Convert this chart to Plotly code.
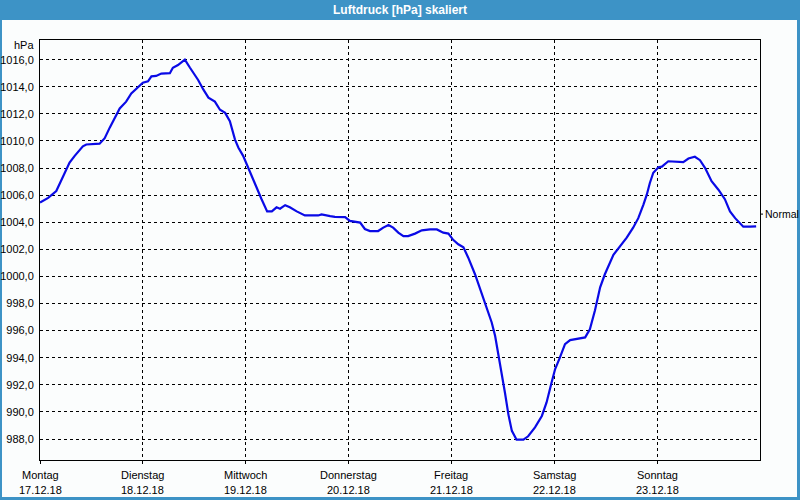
import plotly.graph_objects as go

# ---- data ----
HOURS = [0, 1.9, 3.8, 5.4, 6.9, 8.1, 10.0, 10.8, 13.9, 15.1, 16.3, 18.6, 20.1, 21.3, 22.9,
         24.0, 25.2, 26.0, 27.1, 28.3, 30.3, 31.0, 32.2, 33.8, 35.0, 36.9, 38.1, 39.3, 40.8,
         42.0, 43.2, 44.3, 45.5, 46.3, 47.4, 48.6, 50.2, 51.7, 53.0, 54.1, 55.2, 56.0, 57.2,
         58.3, 59.9, 61.8, 64.9, 65.7, 67.7, 68.8, 71.2, 72.3, 74.7, 75.8, 77.0, 78.9, 80.1,
         81.3, 82.4, 83.6, 84.8, 85.9, 87.5, 89.1, 91.0, 92.6, 94.1, 95.3, 96.4, 97.6, 98.8,
         99.9, 101.5, 103.1, 104.2, 105.4, 106.2, 106.9, 107.7, 108.5, 109.3, 110.1, 111.2,
         112.8, 113.9, 115.5, 117.1, 118.2, 119.4, 120.2, 121.3, 122.5, 123.7, 125.2, 127.2,
         128.3, 129.5, 130.7, 131.8, 133.8, 135.3, 136.9, 138.4, 139.6, 140.8, 141.6, 142.3,
         143.1, 144.3, 145.1, 146.6, 148.6, 150.1, 151.3, 152.8, 154.0, 155.2, 156.7, 158.3,
         159.8, 161.0, 162.2, 164.1, 165.7, 167.1]
PRESSURE = [1005.45, 1005.8, 1006.3, 1007.4, 1008.4, 1008.9, 1009.6, 1009.74, 1009.8, 1010.2,
            1011.0, 1012.4, 1012.9, 1013.5, 1014.0, 1014.3, 1014.4, 1014.77, 1014.8, 1014.97,
            1015.0, 1015.4, 1015.6, 1016.0, 1015.4, 1014.5, 1013.8, 1013.2, 1012.9, 1012.3,
            1012.07, 1011.45, 1010.1, 1009.5, 1008.9, 1008.0, 1006.7, 1005.7, 1004.8, 1004.8,
            1005.1, 1005.0, 1005.26, 1005.1, 1004.8, 1004.5, 1004.5, 1004.58, 1004.45, 1004.4,
            1004.38, 1004.1, 1003.97, 1003.5, 1003.35, 1003.35, 1003.6, 1003.8, 1003.6, 1003.23,
            1002.98, 1002.98, 1003.16, 1003.4, 1003.47, 1003.47, 1003.23, 1003.16, 1002.7,
            1002.37, 1002.15, 1001.4, 1000.16, 998.7, 997.8, 996.6, 995.6, 994.4, 992.9, 991.4,
            989.8, 988.6, 987.95, 987.95, 988.2, 988.86, 989.7, 990.7, 992.2, 993.16, 994.0,
            995.0, 995.3, 995.4, 995.5, 996.1, 997.5, 999.2, 1000.16, 1001.6, 1002.24, 1002.86,
            1003.6, 1004.3, 1005.3, 1006.05, 1006.9, 1007.65, 1008.06, 1008.1, 1008.5, 1008.43,
            1008.43, 1008.7, 1008.83, 1008.58, 1008.0, 1007.03, 1006.4, 1005.7, 1004.8, 1004.3,
            1003.67, 1003.67, 1003.7]
DAY_NAMES = ["Montag", "Dienstag", "Mittwoch", "Donnerstag", "Freitag", "Samstag", "Sonntag"]
DAY_DATES = ["17.12.18", "18.12.18", "19.12.18", "20.12.18", "21.12.18", "22.12.18", "23.12.18"]
Y_TICKS = [988, 990, 992, 994, 996, 998, 1000, 1002, 1004, 1006, 1008, 1010, 1012, 1014, 1016]
NORMAL = 1004.6
TITLE = "Luftdruck [hPa] skaliert"
UNIT = "hPa"

# ---- geometry ----
W, H = 800, 500
L, R, T, B = 40, 40, 40, 40
PW, PH = W - L - R, H - T - B


def px(x):
    return (x - L) / PW


def py(y):
    return (H - B - y) / PH


FONT = "Liberation Sans, Arial, sans-serif"
BLUE = "#3d93c6"
BG = "#fbfdfd"

days = [h / 24.0 for h in HOURS]

fig = go.Figure()
fig.add_trace(go.Scatter(x=days, y=PRESSURE, mode="lines",
                         line=dict(color="#0a0ae6", width=2.2), hoverinfo="skip",
                         showlegend=False))

shapes = [
    dict(type="rect", xref="paper", yref="paper", x0=px(2), x1=px(797), y0=py(497), y1=py(20),
         fillcolor=BG, line=dict(width=0), layer="below"),
    dict(type="line", xref="paper", yref="y", x0=1, x1=1 + 3 / PW, y0=NORMAL, y1=NORMAL,
         line=dict(color="black", width=1)),
]

annotations = [
    dict(text="<b>" + TITLE + "</b>", xref="paper", yref="paper", x=px(400), y=py(10),
         xanchor="center", yanchor="middle", showarrow=False,
         font=dict(family=FONT, size=12, color="white")),
    dict(text=UNIT, xref="paper", yref="paper", x=px(36), y=py(45),
         xanchor="right", yanchor="middle", showarrow=False,
         font=dict(family=FONT, size=11, color="black")),
    dict(text="Normal", xref="paper", yref="y", x=1, y=NORMAL, xshift=3,
         xanchor="left", yanchor="middle", showarrow=False,
         font=dict(family=FONT, size=10.5, color="black")),
]
# day labels as two text rows below the x axis
for i, (n, d) in enumerate(zip(DAY_NAMES, DAY_DATES)):
    annotations.append(dict(text=n, xref="x", yref="paper", x=i, y=py(475),
                            xanchor="center", yanchor="middle", showarrow=False,
                            font=dict(family=FONT, size=11, color="black")))
    annotations.append(dict(text=d, xref="x", yref="paper", x=i, y=py(490),
                            xanchor="center", yanchor="middle", showarrow=False,
                            font=dict(family=FONT, size=11, color="black")))

fig.update_layout(
    width=W, height=H,
    margin=dict(l=L, r=R, t=T, b=B, pad=0),
    paper_bgcolor=BLUE, plot_bgcolor=BG,
    shapes=shapes, annotations=annotations,
    showlegend=False,
    font=dict(family=FONT, size=11, color="black"),
)
fig.update_xaxes(
    range=[0, 7], tickmode="array", tickvals=list(range(7)),
    showticklabels=False, automargin=False,
    showgrid=True, gridcolor="black", gridwidth=1, griddash="3px,3px",
    showline=True, linecolor="black", linewidth=1, mirror=True,
    ticks="outside", ticklen=3, tickcolor="black", zeroline=False,
)
fig.update_yaxes(
    range=[986.45, 1017.45], tickmode="array", tickvals=Y_TICKS,
    ticktext=[f"{v},0" for v in Y_TICKS], automargin=False,
    showgrid=True, gridcolor="black", gridwidth=1, griddash="3px,3px",
    showline=True, linecolor="black", linewidth=1, mirror=True,
    ticks="", zeroline=False, ticklabelstandoff=3,
    tickfont=dict(family=FONT, size=11, color="black"),
)

fig.write_html("out.html")
